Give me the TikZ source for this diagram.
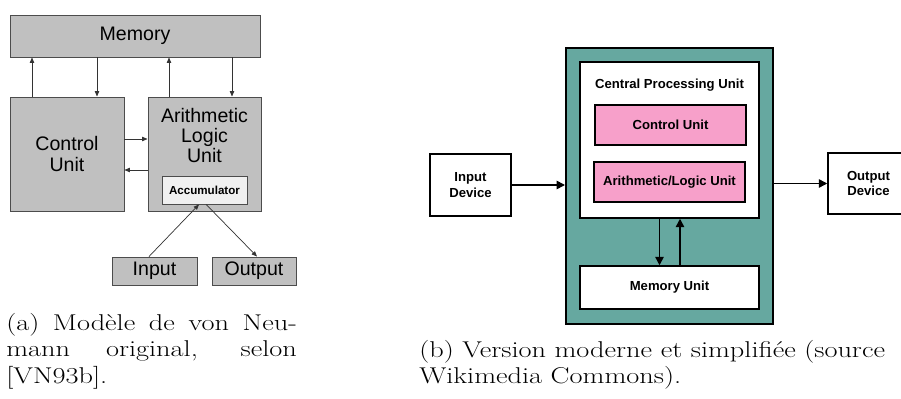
\documentclass[tikz,border=0pt]{standalone}
\usepackage{fontspec}
\newfontfamily\arialfont{Liberation Sans}
\usepackage{tikz}
\usetikzlibrary{arrows.meta,positioning}

\definecolor{memgray}{RGB}{192,192,192}
\definecolor{accgray}{RGB}{240,240,240}
\definecolor{cputeal}{RGB}{102,168,160}
\definecolor{unitpink}{RGB}{247,160,202}

\begin{document}
\begin{tikzpicture}[x=0.03cm,y=-0.03cm,
		wh/.style 2 args={minimum width=#1*0.03cm,minimum height=#2*0.03cm},
		oldbox/.style={draw=black!70,line width=0.8pt,fill=memgray,inner sep=0pt,align=center,
						font=\arialfont\fontsize{16.7}{17.3}\selectfont},
		oldarrow/.style={draw=black!80,line width=0.6pt,-{Triangle[length=1.6mm,width=1.3mm]}},
		newbox/.style={draw=black,line width=1.3pt,fill=white,inner sep=0pt,align=center,
						font=\arialfont\bfseries\fontsize{11.2}{13}\selectfont},
		newarrow/.style={draw=black,line width=1.3pt,-{Triangle[length=2.5mm,width=2.5mm]}},
		caption/.style={inner sep=0pt,transform shape,xscale=1.24,font=\fontsize{19.5}{22.5}\selectfont}]
	\useasboundingbox (0,0) rectangle (901,399);
	\clip (0,0) rectangle (901,399);
	% (a) the original model
	\node[oldbox,wh={250}{42}] (mem) at (135,36) {Memory};
	\node[oldbox,wh={114}{114}] (cu) at (67,154) {Control\\Unit};
	\node[oldbox,wh={113}{114},
			label={[anchor=north,align=center,yshift=-0.22cm,
					font=\arialfont\fontsize{16.7}{17.3}\selectfont]north:Arithmetic\\Logic\\Unit}]
			(alu) at (204.5,154) {};
	\node[oldbox,fill=accgray,wh={85}{28},font=\arialfont\bfseries\fontsize{9.9}{12}\selectfont]
			(acc) at (204.5,190) {Accumulator};
	\node[oldbox,wh={85}{28}] (inp) at (154.5,271) {Input};
	\node[oldbox,wh={84}{28}] (outp) at (254,271) {Output};
	% columns and rows of the arrows
	\coordinate (c1) at (32,0);
	\coordinate (c2) at (97,0);
	\coordinate (c3) at (169,0);
	\coordinate (c4) at (232,0);
	\coordinate (r1) at (0,139);
	\coordinate (r2) at (0,170);
	\draw[oldarrow] (cu.north -| c1) -- (mem.south -| c1);
	\draw[oldarrow] (mem.south -| c2) -- (cu.north -| c2);
	\draw[oldarrow] (alu.north -| c3) -- (mem.south -| c3);
	\draw[oldarrow] (mem.south -| c4) -- (alu.north -| c4);
	\draw[oldarrow] (cu.east |- r1) -- (alu.west |- r1);
	\draw[oldarrow] (alu.west |- r2) -- (cu.east |- r2);
	\draw[oldarrow] ([xshift=-0.165cm]inp.north) -- ([xshift=-0.165cm]acc.south);
	\draw[oldarrow] ([xshift=0.05cm]acc.south) -- ([xshift=0.09cm]outp.north);
	% (b) the modern model
	\node[newbox,fill=cputeal,line width=1.7pt,wh={207}{276}] (sys) at (669.5,186) {};
	\node[newbox,wh={179}{156},
			label={[anchor=north,yshift=-0.42cm,
					font=\arialfont\bfseries\fontsize{11.2}{13}\selectfont]north:Central Processing Unit}]
			(cpu) at (669.5,140) {};
	\node[newbox,fill=unitpink,wh={151}{40}] (ctl) at (670.5,125) {Control Unit};
	\node[newbox,fill=unitpink,wh={151}{40}] (alub) at (669.5,182) {Arithmetic/Logic Unit};
	\node[newbox,wh={179}{43}] (memu) at (669.5,287.5) {Memory Unit};
	\node[newbox,wh={81}{62}] (indev) at (470.5,185) {Input\\Device};
	\node[newbox,wh={81}{61}] (outdev) at (868.5,183.5) {Output\\Device};
	\coordinate (c5) at (659.5,0);
	\coordinate (c6) at (680,0);
	\draw[newarrow] (indev.east) -- (indev.east -| sys.west);
	\draw[newarrow] (sys.east |- outdev.west) -- (outdev.west);
	\draw[newarrow] (cpu.south -| c5) -- (memu.north -| c5);
	\draw[newarrow] (memu.north -| c6) -- (cpu.south -| c6);
	% captions
	\node[caption,anchor=north west,text width=200pt,align=justify] (capa) at (6,313)
		{(a) Modèle de von Neu-\linebreak mann original, selon\linebreak {[VN93b].}};
	\node[caption,anchor=north west,align=left] (capb) at (419,340)
		{(b) Version moderne et simplifiée (source\\ Wikimedia Commons).};
\end{tikzpicture}
\end{document}
